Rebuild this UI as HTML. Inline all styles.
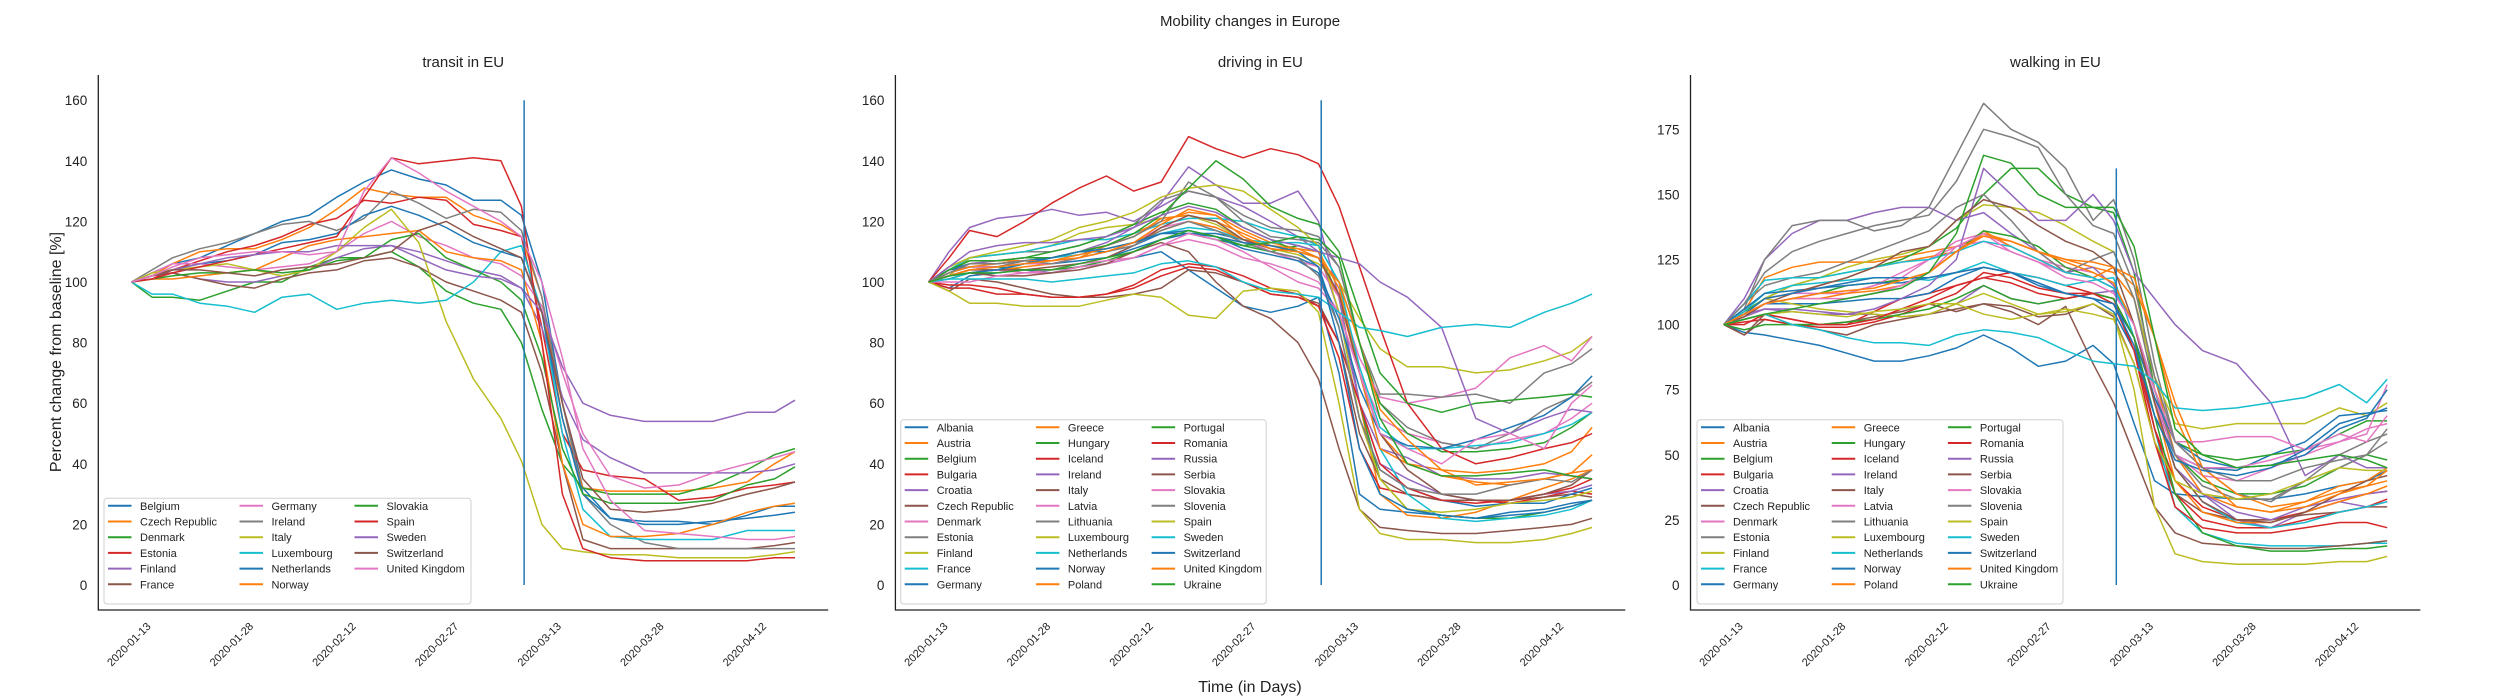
<!DOCTYPE html>
<html><head><meta charset="utf-8"><style>
html,body{margin:0;padding:0;background:#fff;}
svg{display:block;font-family:"Liberation Sans",sans-serif;}
</style></head><body>
<svg id="chart" width="2500" height="700" viewBox="0 0 2500 700" xmlns="http://www.w3.org/2000/svg">
<rect width="2500" height="700" fill="#fff"/>
<text x="1250" y="26" font-size="15" text-anchor="middle" fill="#222">Mobility changes in Europe</text>
<text x="1250" y="692" font-size="16" text-anchor="middle" fill="#222">Time (in Days)</text>
<text transform="translate(61,352) rotate(-90)" font-size="16" text-anchor="middle" fill="#222">Percent change from baseline [%]</text>
</svg>
<script>
const days = [0,3,6,10,14,18,22,26,30,34,38,42,46,50,54,57,60,63,66,70,75,80,85,90,94,97];
const xTickDays = [0,15,30,45,60,75,90];
const xTickLabels = ["2020-01-13","2020-01-28","2020-02-12","2020-02-27","2020-03-13","2020-03-28","2020-04-12"];
const vlineDay = 57.4;
const colors = ["#1f77b4","#ff7f0e","#2ca02c","#d62728","#9467bd","#8c564b","#e377c2","#7f7f7f","#bcbd22","#17becf"];

const transitNames = ["Belgium","Czech Republic","Denmark","Estonia","Finland","France","Germany","Ireland","Italy","Luxembourg","Netherlands","Norway","Slovakia","Spain","Sweden","Switzerland","United Kingdom"];
const transitValues = [
[100,103,106,108,112,116,120,122,128,133,137,134,132,127,127,122,100,60,32,22,21,21,20,23,26,26],
[100,102,106,110,111,111,114,118,124,131,129,128,128,122,119,115,95,55,32,31,31,31,32,34,40,44],
[100,95,95,94,97,100,100,105,108,108,110,105,97,93,91,80,58,40,32,30,30,30,33,38,43,45],
[100,101,104,107,110,112,115,119,121,127,126,128,127,119,117,115,85,50,38,36,35,28,29,32,33,34],
[100,102,103,101,100,100,102,104,108,111,112,110,107,104,102,98,85,62,48,42,37,37,37,37,38,40],
[100,102,103,101,99,98,101,103,104,107,108,105,100,97,94,90,70,40,15,12,12,12,12,12,13,14],
[100,103,106,106,105,104,105,106,110,116,120,115,112,108,106,102,92,70,50,36,32,33,37,40,42,44],
[100,104,108,111,113,116,119,120,117,121,130,126,121,124,123,117,95,60,30,20,14,12,12,12,12,12],
[100,103,104,105,106,104,102,104,110,118,124,113,87,68,55,41,20,12,11,10,10,9,9,9,10,11],
[100,96,96,93,92,90,95,96,91,93,94,93,94,100,110,112,90,50,25,16,15,15,15,18,18,18],
[100,102,104,106,107,109,113,114,116,122,125,122,118,113,110,108,90,55,30,22,20,20,21,22,23,24],
[100,101,101,102,103,104,108,112,114,115,116,117,110,108,107,104,80,40,20,16,16,17,20,24,26,27],
[100,101,102,103,103,104,103,104,107,108,114,116,108,104,100,94,75,45,30,27,27,27,28,33,35,39],
[100,101,103,105,107,109,111,113,115,128,141,139,140,141,140,125,80,30,12,9,8,8,8,8,9,9],
[100,102,104,106,108,109,110,110,112,112,112,108,104,102,101,98,90,72,60,56,54,54,54,57,57,61],
[100,102,104,104,103,102,104,105,106,108,110,117,120,115,111,108,90,60,35,25,24,25,27,30,32,34],
[100,102,105,108,109,110,110,109,110,130,141,136,130,125,120,115,100,75,45,28,18,17,16,15,15,16]
];

const countryNames = ["Albania","Austria","Belgium","Bulgaria","Croatia","Czech Republic","Denmark","Estonia","Finland","France","Germany","Greece","Hungary","Iceland","Ireland","Italy","Latvia","Lithuania","Luxembourg","Netherlands","Norway","Poland","Portugal","Romania","Russia","Serbia","Slovakia","Slovenia","Spain","Sweden","Switzerland","United Kingdom","Ukraine"];
const drivingValues = [
[100,98,102,103,104,103,105,106,108,110,104,98,92,90,92,95,70,30,25,24,23,22,24,25,27,28],
[100,103,106,107,107,108,110,112,116,120,123,122,117,113,111,108,95,60,30,23,22,24,28,32,35,38],
[100,103,105,105,104,104,105,107,110,114,116,114,112,110,112,110,95,60,35,25,23,22,22,24,26,28],
[100,98,98,96,96,95,95,96,99,104,106,105,102,98,96,92,75,45,32,30,28,28,27,29,31,30],
[100,110,118,121,122,124,122,123,120,125,130,128,125,120,115,110,90,60,40,35,30,28,28,30,31,33],
[100,97,101,100,98,96,95,95,96,98,104,103,100,96,95,93,80,50,35,30,28,28,28,29,30,29],
[100,102,104,104,103,103,105,106,108,112,114,112,108,106,103,100,90,70,55,50,47,45,48,50,55,60],
[100,105,108,109,110,110,112,115,119,127,130,128,122,118,117,115,105,80,60,52,47,45,50,58,62,67],
[100,102,108,109,110,112,116,118,119,121,122,119,114,111,109,106,100,88,78,72,72,70,71,74,77,82],
[100,104,108,109,110,112,114,114,116,119,121,121,120,117,115,112,100,70,45,30,22,21,22,23,25,28],
[100,104,105,105,106,106,107,108,111,114,116,116,114,110,108,105,85,55,38,32,28,26,27,27,30,32],
[100,101,103,104,105,106,108,112,115,121,122,120,116,112,110,108,95,70,50,40,38,37,38,40,44,52],
[100,104,107,107,108,110,112,115,119,123,126,124,118,114,110,108,100,80,60,50,44,44,45,47,52,57],
[100,108,117,115,120,126,131,135,130,133,148,144,141,144,142,139,125,105,85,60,45,40,42,45,47,50],
[100,104,106,107,108,108,110,113,118,126,138,132,126,126,130,120,95,60,45,42,36,35,35,37,36,35],
[100,101,103,102,102,103,104,106,110,113,110,100,92,88,80,68,45,25,19,18,17,17,18,19,20,22],
[100,103,105,105,106,106,108,110,113,118,120,118,114,110,107,105,95,75,62,60,62,65,75,79,74,82],
[100,102,104,105,107,108,110,112,115,120,133,128,120,115,114,113,105,80,63,63,62,63,60,70,73,78],
[100,105,108,110,112,114,118,120,123,128,131,132,130,124,118,112,90,55,35,25,24,25,27,28,29,31],
[100,101,103,104,106,108,109,111,113,116,118,117,114,113,113,112,100,72,52,45,45,46,47,50,53,57],
[100,104,106,106,107,108,110,110,112,116,116,115,111,109,107,103,88,65,50,46,45,48,52,56,62,69],
[100,103,105,106,107,107,109,111,113,117,120,118,114,112,111,110,98,70,45,40,36,34,33,35,37,43],
[100,104,107,107,108,108,110,112,116,122,131,140,134,125,121,119,110,90,70,60,57,60,61,62,63,62],
[100,99,99,98,96,95,95,96,98,102,105,104,100,96,95,92,80,60,40,32,28,27,28,30,32,35],
[100,105,110,112,113,113,114,115,118,122,125,123,118,114,112,110,108,106,100,95,85,55,50,55,58,57],
[100,102,104,104,104,105,106,108,112,118,122,120,114,111,110,108,96,70,50,38,30,28,28,30,33,38],
[100,100,100,102,103,104,106,107,108,112,116,114,110,105,100,98,90,70,50,45,40,48,50,45,60,66],
[100,103,106,106,107,106,108,110,112,117,120,117,113,110,108,102,85,55,38,32,30,30,33,35,34,38],
[100,97,93,93,92,92,92,94,96,95,89,88,97,98,97,90,60,25,17,15,15,14,14,15,17,19],
[100,101,101,101,101,100,101,102,103,106,107,105,100,97,96,95,90,85,84,82,85,86,85,90,93,96],
[100,102,103,104,106,108,110,111,113,116,117,115,113,112,110,105,80,45,30,25,23,22,23,24,26,28],
[100,102,104,105,106,107,108,110,113,119,124,122,115,111,110,108,100,80,58,48,38,33,34,35,37,38],
[100,102,103,103,104,104,106,108,110,114,117,115,112,113,115,114,108,80,55,40,36,36,37,38,36,35]
];
const walkingValues = [
[100,97,96,94,92,89,86,86,88,91,96,91,84,86,92,85,62,40,35,34,33,33,35,38,40,44],
[100,105,118,122,124,124,124,126,128,130,134,132,128,125,122,120,110,80,50,35,30,28,32,36,38,40],
[100,105,110,115,118,120,122,125,130,137,150,160,160,150,145,143,120,75,50,40,35,35,38,45,50,48],
[100,100,104,102,100,100,105,110,112,115,118,120,118,115,112,110,90,60,40,30,25,25,28,32,35,36],
[100,110,125,135,140,140,143,145,145,140,143,135,128,120,122,115,100,70,45,35,25,22,28,32,30,32],
[100,96,102,100,100,101,103,105,108,105,108,107,103,104,108,103,85,55,35,28,25,25,27,28,30,30],
[100,104,110,112,112,112,115,118,125,132,135,130,125,122,120,116,100,70,50,42,40,45,50,55,60,62],
[100,106,125,138,140,140,136,138,145,165,185,175,170,160,140,148,125,85,55,45,35,32,40,50,55,58],
[100,104,110,115,118,122,125,127,130,140,146,145,143,138,132,128,110,80,62,60,62,62,62,68,65,70],
[100,105,112,115,116,117,118,118,117,120,124,120,118,115,117,118,95,60,30,20,16,15,15,15,16,16],
[100,104,108,108,108,109,110,110,112,118,122,120,116,112,110,105,90,65,50,45,44,50,55,65,66,67],
[100,104,110,112,115,118,122,124,126,128,136,130,125,120,118,122,115,95,70,45,35,30,32,38,40,45],
[100,104,108,110,112,115,116,117,120,128,136,134,130,122,118,114,100,75,55,50,48,50,52,58,63,63],
[100,101,102,100,99,99,101,104,108,112,120,118,114,112,112,110,95,60,35,25,22,22,25,28,30,33],
[100,103,106,106,105,104,104,103,104,108,115,110,108,110,112,113,100,70,45,35,28,25,30,33,35,36],
[100,96,104,100,98,96,100,102,104,106,108,105,100,107,85,70,50,30,20,16,15,14,14,15,16,17],
[100,104,108,110,112,112,115,120,125,130,132,128,124,120,118,114,100,72,50,45,45,48,52,55,58,77],
[100,108,115,118,120,124,128,132,136,145,150,140,128,120,125,128,110,75,50,38,33,33,40,45,50,55],
[100,104,110,108,106,105,104,103,104,108,112,108,104,105,108,104,75,30,12,9,8,8,8,9,9,11],
[100,108,117,118,118,120,122,124,125,128,132,130,125,120,118,114,100,70,45,32,24,22,24,28,30,32],
[100,106,112,113,114,115,116,116,118,120,122,120,116,112,110,108,95,72,55,48,45,46,50,60,64,75],
[100,104,108,110,110,112,113,115,120,128,135,132,128,124,120,116,100,70,40,28,24,24,28,32,35,38],
[100,98,100,100,100,101,102,104,106,110,115,110,108,110,112,110,95,65,35,20,15,13,13,14,14,15],
[100,102,104,102,100,100,102,106,110,115,118,116,112,110,112,108,90,55,30,22,20,20,22,24,24,22],
[100,104,106,105,104,104,106,110,115,125,160,150,140,140,150,140,120,110,100,90,85,70,42,50,45,45],
[100,103,108,112,115,118,122,128,130,140,148,145,138,132,128,122,100,70,45,32,25,24,28,35,40,42],
[100,104,108,110,110,110,112,115,120,130,135,128,124,118,116,112,100,75,55,55,57,57,52,58,55,65],
[100,108,120,128,132,135,138,140,142,155,175,172,168,150,138,135,115,80,55,45,40,40,45,48,50,60],
[100,102,104,105,104,103,105,106,108,108,104,102,104,106,104,102,85,55,40,35,33,35,40,45,44,44],
[100,102,104,100,98,95,93,93,92,96,98,97,95,90,86,85,84,78,68,67,68,70,72,77,70,79],
[100,104,110,112,114,116,118,118,118,120,122,120,115,112,110,108,92,65,48,44,42,45,52,62,65,68],
[100,104,108,110,112,113,114,117,120,128,134,132,128,125,124,122,118,95,65,42,30,28,30,35,38,44],
[100,102,104,106,108,110,112,114,120,135,165,162,150,145,145,145,130,95,60,50,45,46,48,50,48,45]
];
const transitYTicks = [0,20,40,60,80,100,120,140,160];
const drivingYTicks = [0,20,40,60,80,100,120,140,160];
const walkingYTicks = [0,25,50,75,100,125,150,175];

const NS = "http://www.w3.org/2000/svg";
const svg = document.getElementById("chart");
function mk(tag, attrs, parent){
  const e = document.createElementNS(NS, tag);
  for (const k in attrs) e.setAttribute(k, attrs[k]);
  (parent||svg).appendChild(e);
  return e;
}
const PX_DAY = 6.84;

function drawPanel(cfg){
  const g = mk("g", {});
  
  
  const xOf = d => cfg.x0 + d * PX_DAY;
  const yOf = v => 585 - v * cfg.pxPerUnit;
  const axL = cfg.x0 - 33.2, axR = cfg.x0 + 97 * PX_DAY + 33.2;
  // title
  const t = mk("text", {x:(axL+axR)/2, y:67, "font-size":15, "text-anchor":"middle", fill:"#222"}, g);
  t.textContent = cfg.title;
  
  
  // y ticks
  cfg.yTicks.forEach(v => {
    const lt = mk("text", {x:axL-11, y:yOf(v)+5, "font-size":13.5, "text-anchor":"end", fill:"#222"}, g);
    lt.textContent = v;
    
    
  });
  // x ticks
  xTickDays.forEach((d, i) => {
    const x = xOf(d);
    const lt = mk("text", {x:0, y:0, "font-size":11, "text-anchor":"middle", fill:"#222",
      transform:`translate(${x},${647}) rotate(-45)`}, g);
    lt.textContent = xTickLabels[i];
    
    
  });
  // series
  cfg.values.forEach((vals, i) => {
    const pts = vals.map((v, j) => xOf(days[j]).toFixed(1) + "," + yOf(v).toFixed(1)).join(" ");
    const pl = mk("polyline", {points:pts, fill:"none", stroke:colors[i % 10], "stroke-width":1.5, "stroke-linejoin":"round"}, g);
    
    
  });
  // vline
  const vl = mk("line", {x1:xOf(vlineDay), x2:xOf(vlineDay), y1:yOf(0), y2:yOf(160), stroke:"#1f77b4", "stroke-width":1.5}, g);
  
  
  // spines
  const sp = mk("path", {d:`M${axL},75 L${axL},610 L${axR},610`, fill:"none", stroke:"#222", "stroke-width":1.3}, g);
  
  
  // legend
  const n = cfg.names.length, rows = Math.ceil(n / 3);
  const lg = mk("g", {}, g);
  
  
  const top = 604 - (rows * 15.7 + 11.5);
  mk("rect", {x:cfg.legX, y:top, width:cfg.legW, height:604-top, rx:3, fill:"#fff", "fill-opacity":0.85, stroke:"#d0d0d0", "stroke-width":1}, lg);
  cfg.names.forEach((nm, i) => {
    const c = Math.floor(i / rows), r = i % rows;
    const lx = cfg.legX + 4 + cfg.colOff[c];
    const ly = top + 7.5 + r * 15.7;
    const e = mk("g", {}, lg);
    
    
    mk("line", {x1:lx, x2:lx+23.5, y1:ly, y2:ly, stroke:colors[i % 10], "stroke-width":2}, e);
    const tx = mk("text", {x:lx+32, y:ly+4, "font-size":11, fill:"#222"}, e);
    tx.textContent = nm;
  });
}
drawPanel({key:"transit", title:"transit in EU", x0:131.5, pxPerUnit:3.03, yTicks:transitYTicks, values:transitValues, names:transitNames, legX:104, legW:367, colOff:[0,131.5,246.5]});
drawPanel({key:"driving", title:"driving in EU", x0:928.6, pxPerUnit:3.03, yTicks:drivingYTicks, values:drivingValues, names:countryNames, legX:900.7, legW:365.5, colOff:[0,131.2,246.9]});
drawPanel({key:"walking", title:"walking in EU", x0:1723.7, pxPerUnit:2.604, yTicks:walkingYTicks, values:walkingValues, names:countryNames, legX:1697, legW:366, colOff:[0,130.7,246.9]});
</script>
</body></html>
